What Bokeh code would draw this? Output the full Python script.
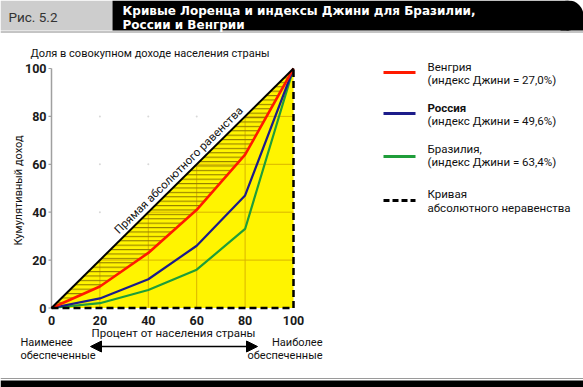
import math
from bokeh.plotting import figure
from bokeh.models import Range1d, Arrow, NormalHead
from bokeh.core.properties import value
from bokeh.embed import file_html
from bokeh.resources import INLINE

# ---------------- data ----------------
population = [0, 20, 40, 60, 80, 100]          # cumulative % of population
hungary = [0, 9, 23, 41, 64, 100]              # Gini 27.0%
russia = [0, 4, 12, 26, 47, 100]               # Gini 49.6%
brazil = [0, 2, 7.5, 16, 33, 100]              # Gini 63.4%
equality_x = [0, 100]
equality_y = [0, 100]
inequality_x = [0, 100, 100]
inequality_y = [0, 0, 100]
ticks = [0, 20, 40, 60, 80, 100]
tick_labels = ["0", "20", "40", "60", "80", "100"]

title_lines = ["Кривые Лоренца и индексы Джини для Бразилии,", "России и Венгрии"]
fig_label = "Рис. 5.2"
y_top_label = "Доля в совокупном доходе населения страны"
y_title = "Кумулятивный доход"
x_title = "Процент от населения страны"
diag_label = "Прямая абсолютного равенства"
left_note = ["Наименее", "обеспеченные"]
right_note = ["Наиболее", "обеспеченные"]
legend_first = ["Венгрия", "Россия", "Бразилия,", "Кривая"]
legend_second = ["(индекс Джини = 27,0%)", "(индекс Джини = 49,6%)",
                 "(индекс Джини = 63,4%)", "абсолютного неравенства"]

# ---------------- styles ----------------
YELLOW = "#fff400"
RED = "#ff1a00"
BLUE = "#1c1c8a"
GREEN = "#1f9d3a"
GRID = "#d9b400"
HATCH = "#958000"
FONT = "Roboto"

# ---------------- canvas mapping ----------------
W, H = 583, 387
OX, OY = 51.0, 307.5     # pixel position of data origin
KX, KY = 2.42, 2.395     # pixels per data unit


def cx(px):
    return (px - OX) / KX


def cy(py):
    return (OY - py) / KY


p = figure(width=W, height=H,
           x_range=Range1d(cx(0), cx(W)), y_range=Range1d(cy(H), cy(0)),
           x_axis_location=None, y_axis_location=None,
           toolbar_location=None, tools="", output_backend="svg",
           min_border=0, outline_line_color=None,
           background_fill_color="white", border_fill_color="white")
p.grid.visible = False


def T(xp, yp, s, size=11, align="left", baseline="middle", font=FONT,
      style="normal", color="#111111", angle=0.0):
    p.text(x=[cx(xp)], y=[cy(yp)], text=[s], text_font=value(font),
           text_font_size=f"{size}px", text_align=align,
           text_baseline=baseline, text_font_style=style,
           text_color=color, angle=angle)


# ---------------- header ----------------
p.quad(left=[cx(0)], right=[cx(112)], bottom=[cy(30)], top=[cy(0)],
       fill_color="#cdcdcd", line_color=None)
p.quad(left=[cx(112)], right=[cx(568)], bottom=[cy(30)], top=[cy(0)],
       fill_color="black", line_color=None)
p.quad(left=[cx(560)], right=[cx(W)], bottom=[cy(30)], top=[cy(15)],
       fill_color="black", line_color=None)
p.scatter(x=[cx(568)], y=[cy(15)], size=30, marker="circle",
          fill_color="black", line_color=None)
p.line(x=[cx(0), cx(W)], y=[cy(31.5), cy(31.5)], line_color="#8a8a8a", line_width=1)
T(8, 16, fig_label, size=13.5, color="#333333")
T(122, 10, title_lines[0], size=12, font="DejaVu Sans", style="bold", color="white")
T(122, 24, title_lines[1], size=12, font="DejaVu Sans", style="bold", color="white")

# bottom band
p.quad(left=[cx(0)], right=[cx(W)], bottom=[cy(H)], top=[cy(380)],
       fill_color="black", line_color=None)
p.line(x=[cx(0), cx(W)], y=[cy(378), cy(378)], line_color="#9a9a9a", line_width=1)

# ---------------- chart ----------------
# yellow area under the line of equality
p.patch(x=equality_x + inequality_x[1:2], y=equality_y + inequality_y[1:2],
        fill_color=YELLOW, line_color=None)

# grid inside the triangle
inner = ticks[1:-1]
p.segment(x0=inner, y0=[0] * len(inner), x1=inner, y1=inner, line_color=GRID, line_width=1)
p.segment(x0=inner, y0=inner, x1=[100] * len(inner), y1=inner, line_color=GRID, line_width=1)

# faint dots above the diagonal
dx, dy = [], []
for a in ticks[1:-1]:
    for b in ticks[1:-1]:
        if b > a:
            dx.append(a)
            dy.append(b)
p.scatter(x=dx, y=dy, size=2, marker="circle", fill_color="#d8d8d8", line_color=None)

# hatched band between equality line and Hungary
p.patch(x=equality_x + population[::-1], y=equality_y + hungary[::-1],
        fill_color=None, line_color=None, hatch_pattern="-",
        hatch_color=HATCH, hatch_scale=4.4, hatch_weight=1.1)

# y axis line and small ticks
p.line(x=[0, 0], y=[ticks[0], ticks[-1]], line_color="#a0a0a0", line_width=1.5)
p.segment(x0=[0] * len(ticks), y0=ticks, x1=[cx(OX - 3)] * len(ticks), y1=ticks,
          line_color="#a0a0a0", line_width=1.2)

# Lorenz curves
p.line(population, brazil, line_color=GREEN, line_width=2.2)
p.line(population, russia, line_color=BLUE, line_width=2.2)
p.line(population, hungary, line_color=RED, line_width=2.6)
p.line(equality_x, equality_y, line_color="black", line_width=2)
p.line(inequality_x, inequality_y, line_color="black", line_width=2.5, line_dash="7 4")

# tick labels
p.text(x=[cx(46)] * len(ticks), y=ticks, text=tick_labels,
       text_font=value(FONT), text_font_size="12.5px", text_align="right",
       text_baseline="middle", text_color="#1a1a1a", text_font_style="bold")
p.text(x=ticks, y=[cy(320)] * len(ticks), text=tick_labels,
       text_font=value(FONT), text_font_size="12.5px", text_align="center",
       text_baseline="middle", text_color="#1a1a1a", text_font_style="bold")

# axis titles
T(30, 53, y_top_label, size=11)
T(18, 190, y_title, size=11, align="center", angle=math.pi / 2)
T(173, 332, x_title, size=11.5, align="center")

# diagonal label
ang = math.atan2(KY, KX)
p.text(x=[54.5], y=[55.5], text=[diag_label], text_font=value(FONT), text_font_size="11.5px",
       text_align="center", text_baseline="bottom", angle=ang, text_color="#111111")

# bottom notes with arrow
T(20, 342, left_note[0], size=11)
T(20, 355, left_note[1], size=11)
T(322, 342, right_note[0], size=11, align="right")
T(322, 355, right_note[1], size=11, align="right")
p.add_layout(Arrow(start=NormalHead(size=11, fill_color="black", line_color="black"),
                   end=NormalHead(size=11, fill_color="black", line_color="black"),
                   x_start=cx(90), y_start=cy(346), x_end=cx(257), y_end=cy(346),
                   line_width=1.5, line_color="black"))

# ---------------- legend ----------------
leg_colors = [RED, BLUE, GREEN, "black"]
leg_line_y = [72, 113, 156, 200]
leg_first_y = [66, 107, 148, 193]
leg_second_y = [79, 120, 161, 207]
for i in range(4):
    dash = "6 3" if i == 3 else "solid"
    p.line(x=[cx(383), cx(415)], y=[cy(leg_line_y[i])] * 2, line_color=leg_colors[i],
           line_width=3, line_dash=dash)
    T(427, leg_first_y[i], legend_first[i], size=11.5, style="bold" if i == 1 else "normal")
    T(427, leg_second_y[i], legend_second[i], size=11.5)

open("out.html", "w").write(file_html(p, INLINE))
